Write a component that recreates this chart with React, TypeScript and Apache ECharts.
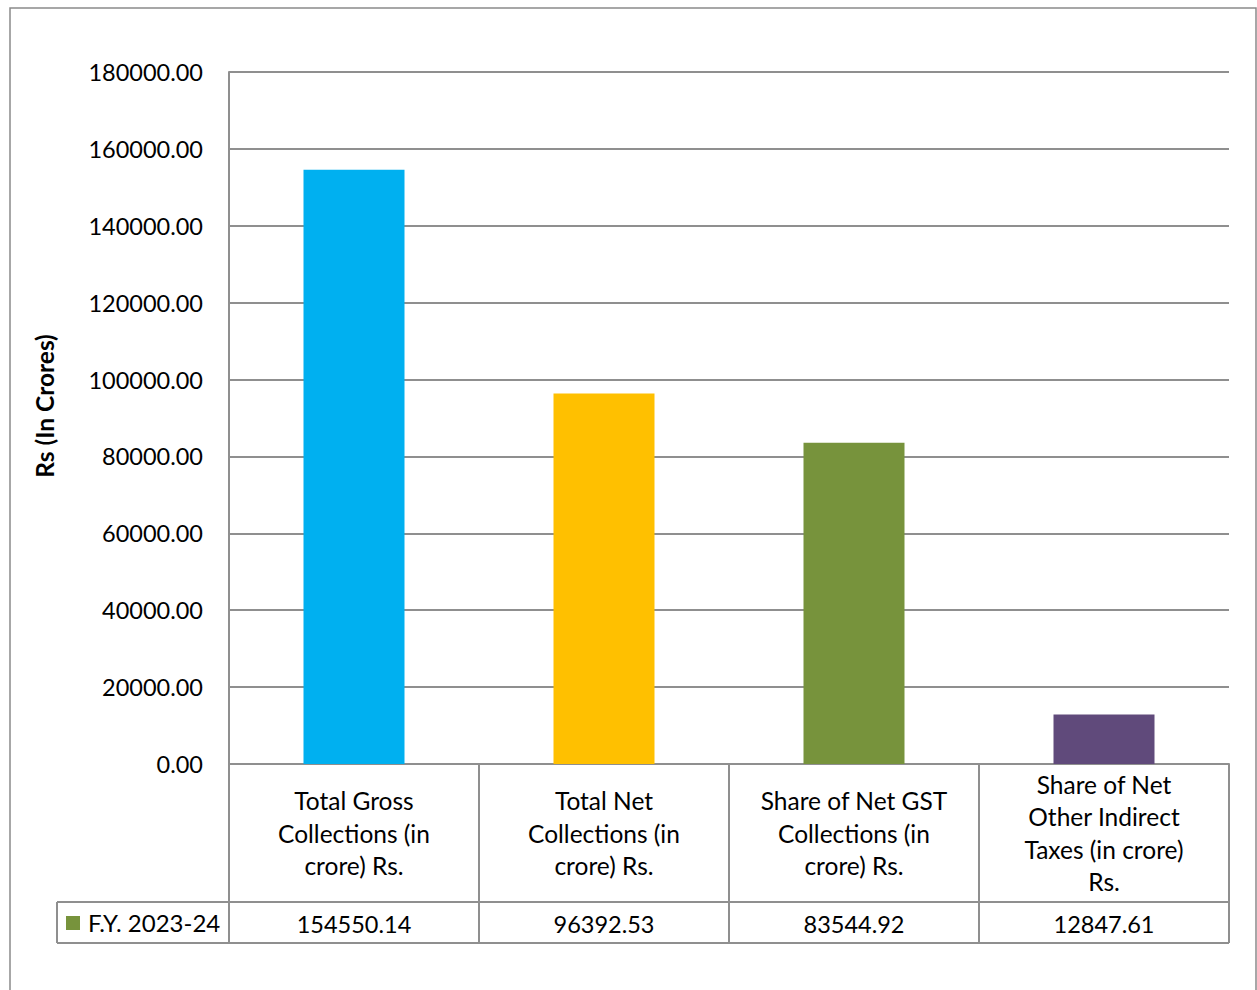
import React, { useEffect, useRef } from "react";
import * as echarts from "echarts";

const categories = [
  "Total Gross\nCollections (in\ncrore) Rs.",
  "Total Net\nCollections (in\ncrore) Rs.",
  "Share of Net GST\nCollections (in\ncrore) Rs.",
  "Share of Net\nOther Indirect\nTaxes (in crore)\nRs.",
];
const values = [154550.14, 96392.53, 83544.92, 12847.61];
const valueLabels = ["154550.14", "96392.53", "83544.92", "12847.61"];
const barColors = ["#00B0F0", "#FFC000", "#77933C", "#604A7B"];
const seriesName = "F.Y. 2023-24";
const legendColor = "#77933C";
const yTicks = { min: 0, max: 180000, interval: 20000 };
const yAxisTitle = "Rs (In Crores)";

const FONT = "Lato, 'Noto Sans', sans-serif";
const LINE = "#8f8f8f";

export default function App() {
  const ref = useRef<HTMLDivElement>(null);
  useEffect(() => {
    if (!ref.current) return;
    const chart = echarts.init(ref.current, null, { renderer: "svg" });
    const gridLeft = 229, gridRight = 28, gridTop = 72, gridBottom = 226;
    chart.setOption({
      animation: false,
      backgroundColor: "#ffffff",
      textStyle: { fontFamily: FONT },
      grid: { left: gridLeft, right: gridRight, top: gridTop, bottom: gridBottom, containLabel: false },
      xAxis: {
        type: "category",
        data: categories,
        axisLine: { show: true, lineStyle: { color: LINE, width: 2 } },
        axisTick: { show: true, length: 179, alignWithLabel: false, lineStyle: { color: LINE, width: 2 } },
        axisLabel: {
          interval: 0,
          margin: 69,
          verticalAlign: "middle",
          color: "#000",
          fontSize: 24.5,
          lineHeight: 32.5,
          fontFamily: FONT,
        },
      },
      yAxis: {
        type: "value",
        min: yTicks.min,
        max: yTicks.max,
        interval: yTicks.interval,
        axisLine: { show: true, lineStyle: { color: LINE, width: 2 } },
        axisTick: { show: false },
        splitLine: { show: true, lineStyle: { color: LINE, width: 2 } },
        axisLabel: {
          margin: 26,
          color: "#000",
          fontSize: 23.5,
          fontFamily: FONT,
          formatter: (v: number) => v.toFixed(2),
        },
      },
      series: [
        {
          name: seriesName,
          type: "bar",
          barWidth: "40.4%",
          data: values.map((v, i) => ({ value: v, itemStyle: { color: barColors[i] } })),
        },
      ],
    });

    const rowTop = 902, rowBottom = 943, tableLeft = 57;
    const rightX = 1257 - gridRight;
    const centers = values.map((_, i) => chart.convertToPixel({ xAxisIndex: 0 }, i) as number);
    const elements: any[] = [
      {
        type: "rect",
        shape: { x: 10, y: 8, width: 1246, height: 1000 },
        style: { fill: "none", stroke: "#8a8a8a", lineWidth: 1.5 },
        silent: true,
        z: 0,
      },
      {
        type: "text",
        x: 44,
        y: 406,
        rotation: Math.PI / 2,
        style: { text: yAxisTitle, fontSize: 24.5, fontWeight: "bold", fontFamily: FONT, fill: "#000", align: "center", verticalAlign: "middle" },
      },
      { type: "line", shape: { x1: tableLeft, y1: rowTop, x2: rightX, y2: rowTop }, style: { stroke: LINE, lineWidth: 2 } },
      { type: "line", shape: { x1: tableLeft, y1: rowBottom, x2: rightX, y2: rowBottom }, style: { stroke: LINE, lineWidth: 2 } },
      { type: "line", shape: { x1: tableLeft, y1: rowTop, x2: tableLeft, y2: rowBottom }, style: { stroke: LINE, lineWidth: 2 } },
      { type: "rect", shape: { x: 66, y: 916, width: 14, height: 14 }, style: { fill: legendColor } },
      {
        type: "text",
        x: 88,
        y: (rowTop + rowBottom) / 2,
        style: { text: seriesName, fontSize: 24, fontFamily: FONT, fill: "#000", verticalAlign: "middle", align: "left" },
      },
    ];
    centers.forEach((cx, i) => {
      elements.push({
        type: "text",
        x: cx,
        y: (rowTop + rowBottom) / 2 + 1,
        style: { text: valueLabels[i], fontSize: 23.5, fontFamily: FONT, fill: "#000", align: "center", verticalAlign: "middle" },
      });
    });
    chart.setOption({ graphic: { elements } });
    return () => chart.dispose();
  }, []);
  return <div ref={ref} style={{ position: "absolute", left: 0, top: 0, width: 1257, height: 990 }} />;
}
